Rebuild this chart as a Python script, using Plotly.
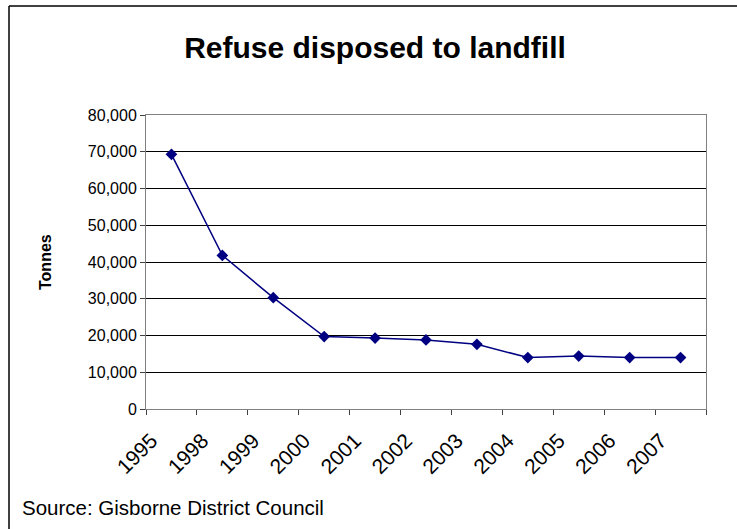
import plotly.graph_objects as go

years = ["1995", "1998", "1999", "2000", "2001", "2002", "2003", "2004", "2005", "2006", "2007"]
tonnes = [69300, 41800, 30300, 19700, 19300, 18800, 17600, 14000, 14400, 14000, 14000]
y_ticks = [0, 10000, 20000, 30000, 40000, 50000, 60000, 70000, 80000]

W, H = 737, 529
L, R, T, B = 146, 706, 115, 409
pw, ph = R - L, B - T

def px(x):
    return (x - L) / pw

def py(y):
    return (B - y) / ph

fig = go.Figure()
fig.add_trace(go.Scatter(
    x=years, y=tonnes, mode="lines+markers",
    line=dict(color="#000080", width=1.5),
    marker=dict(symbol="diamond", size=9, color="#000080"),
    showlegend=False,
))

font = "Liberation Sans, Arial, sans-serif"
fig.update_layout(
    width=W, height=H,
    margin=dict(l=L, r=W - R, t=T, b=H - B),
    paper_bgcolor="white", plot_bgcolor="white",
    font=dict(family=font, color="black"),
    title=dict(text="<b>Refuse disposed to landfill</b>", x=375 / W, xanchor="center",
               y=1 - 47 / H, yanchor="middle", font=dict(size=30, family=font, color="black")),
    xaxis=dict(type="category", range=[-0.5, 10.5], tickson="boundaries", ticks="outside",
               ticklen=5, tickcolor="#404040", tickangle=-45, showgrid=False,
               showline=True, linecolor="#808080", linewidth=1, mirror=True,
               ticklabelstandoff=10, ticklabelshift=-20,
               tickfont=dict(size=21, family=font, color="black")),
    yaxis=dict(range=[0, 80000], tickvals=y_ticks, tickformat=",", ticks="outside",
               ticklen=5, tickcolor="#404040", showgrid=True, gridcolor="black", gridwidth=1,
               showline=True, linecolor="#808080", linewidth=1, mirror=True, zeroline=False,
               tickfont=dict(size=16, family=font, color="black")),
    annotations=[
        dict(text="<b>Tonnes</b>", xref="paper", yref="paper", x=px(45), y=py(262),
             xanchor="center", yanchor="middle", textangle=-90, showarrow=False,
             font=dict(size=16, family=font, color="black")),
        dict(text="Source: Gisborne District Council", xref="paper", yref="paper",
             x=px(20), y=py(507), xanchor="left", yanchor="middle", showarrow=False,
             font=dict(size=20.5, family=font, color="black")),
    ],
    shapes=[
        dict(type="line", xref="paper", yref="paper", x0=px(9), y0=py(H + 20), x1=px(9), y1=py(6),
             line=dict(color="black", width=1.5), layer="below"),
        dict(type="line", xref="paper", yref="paper", x0=px(9), y0=py(6), x1=px(W + 20), y1=py(6),
             line=dict(color="black", width=1.5), layer="below"),
    ],
)

fig.write_html("out.html", config={"displayModeBar": False},
               post_script="document.body.style.margin='0';document.body.style.overflow='hidden';")
